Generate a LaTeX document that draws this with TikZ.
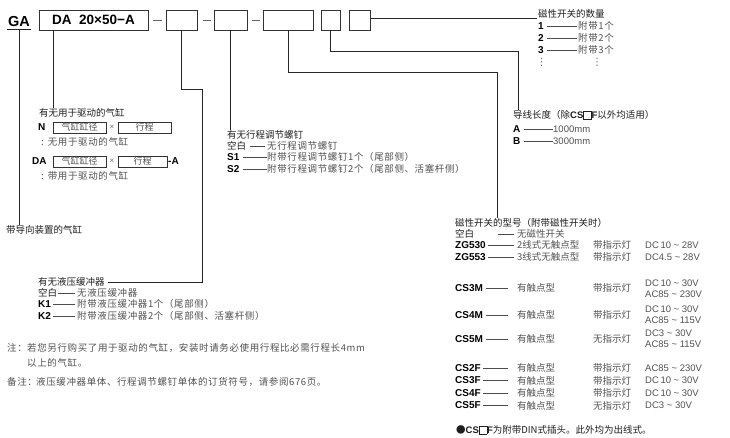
\documentclass[tikz,border=0pt]{standalone}
\usepackage{fontspec}
\setmainfont{Liberation Sans}
\newfontfamily\cjk{Noto Sans CJK SC}
\newfontfamily\cjkw[LetterSpace=6.5]{Noto Sans CJK SC}
\newfontfamily\dejavu{DejaVu Sans}
\newcommand\lat[1]{{\rmfamily\bfseries #1}}
\newcommand\sqbx{{\setlength\fboxsep{0pt}\setlength\fboxrule{0.6pt}\fbox{\rule{0pt}{7.5pt}\rule{7pt}{0pt}}}}
\newcommand\tld{\ \textasciitilde\ }
\newcommand\ldr[3]{\draw[ld] ([xshift=#2pt]#1.east) -- ++(#3,0);}
\tikzset{
  hd/.style={anchor=west, inner sep=0pt, font=\cjk\fontsize{9.5}{11}\selectfont, text=black!88},
  ds/.style={anchor=west, inner sep=0pt, font=\cjkw\fontsize{9.5}{11}\selectfont, text=black!68},
  dn/.style={hd, text=black!68},
  lb/.style={anchor=west, inner sep=0pt, font=\bfseries\fontsize{10}{12}\selectfont, text=black},
  lt/.style={anchor=west, inner sep=0pt, font=\fontsize{9.5}{11}\selectfont, text=black!68},
  codebox/.style={draw=black!80, line width=0.8pt, minimum height=20pt, inner sep=0pt},
  subbox/.style={draw=black!80, line width=0.6pt, minimum height=11pt, inner sep=0pt, font=\cjk\fontsize{9}{10}\selectfont, text=black!68},
  wire/.style={draw=black!85, line width=0.8pt},
  ld/.style={draw=black!70, line width=0.6pt},
  sep/.style={draw=black!60, line width=1.1pt},
  xmark/.style={inner sep=0pt, font=\fontsize{8}{9}\selectfont, text=black!60},
  vdot/.style={inner sep=0pt, font=\dejavu\fontsize{10}{11}\selectfont, text=black!60},
}
\begin{document}
\begin{tikzpicture}[x=1pt,y=-1pt]
\fill[white] (0,0) rectangle (730,438);
\useasboundingbox (0,0) rectangle (730,438);

% ---------- top code row ----------
\node[anchor=base, font=\bfseries\fontsize{14.5}{16}\selectfont, inner xsep=0.5pt, inner ysep=2pt] (ga) at (19,27) {GA};
\node[codebox, minimum width=109pt, font=\bfseries\fontsize{13.5}{15}\selectfont] (b1) at (93.5,20) {DA\ \ 20×50−A};
\node[codebox, minimum width=31pt] (b2) at (181.5,20) {};
\node[codebox, minimum width=33pt] (b3) at (230.5,20) {};
\node[codebox, minimum width=50pt] (b4) at (288,20) {};
\node[codebox, minimum width=19pt] (b5) at (330.5,20) {};
\node[codebox, minimum width=21pt] (b6) at (359.5,20) {};
\draw[sep] (153,20.5) -- (162,20.5);
\draw[sep] (203,20.5) -- (211,20.5);
\draw[sep] (252,20.5) -- (260,20.5);

% ---------- guide ----------
\node[hd] (gd) at (6,230) {带导向装置的气缸};
\draw[wire] (ga.south west) -- (ga.south east);
\draw[wire] (ga.south) -- (ga.south |- gd.north);

% ---------- drive cylinder ----------
\node[hd] (drv) at (39,113) {有无用于驱动的气缸};
\draw[wire] ([xshift=15pt]b1.south west) -- ([xshift=15pt]b1.south west |- drv.north);
\node[lb] (nn) at (38,127) {N};
\node[subbox, minimum width=53pt] (nb1) at (79.5,127.5) {气缸缸径};
\node[xmark] (nx) at (112,127.5) {×};
\node[subbox, minimum width=53pt] (nb2) at (144.5,127.5) {行程};
\node[ds] (nd) at (41,142) {:\hspace{4pt}无用于驱动的气缸};
\node[lb] (da) at (32,161) {DA};
\node[subbox, minimum width=53pt] (db1) at (79.5,161.5) {气缸缸径};
\node[xmark] (dx) at (112,161.5) {×};
\node[subbox, minimum width=49pt] (db2) at (142.5,161.5) {行程};
\node[lb] (dA) at (168,161) {-A};
\node[ds] (dd) at (41,176) {:\hspace{4pt}带用于驱动的气缸};

% ---------- buffer ----------
\node[hd] (buf) at (38,282) {有无液压缓冲器};
\coordinate (k2) at (202,89);
\draw[wire] (b2.south) |- (k2) |- ([xshift=3pt]buf.east);
\node[hd] (kb) at (38,293) {空白};
\node[ds] (kbd) at (77,293) {无液压缓冲器};
\ldr{kb}{1}{17}
\node[lb] (kk1) at (38,304) {K1};
\node[ds] (kk1d) at (77,304) {附带液压缓冲器1个（尾部侧）};
\ldr{kk1}{2}{22}
\node[lb] (kk2) at (38,316) {K2};
\node[ds] (kk2d) at (77,316) {附带液压缓冲器2个（尾部侧、活塞杆侧）};
\ldr{kk2}{2}{22}

% ---------- stroke screw ----------
\node[hd] (stk) at (227,135) {有无行程调节螺钉};
\draw[wire] (b3.south) -- (b3.south |- stk.north);
\node[hd] (sb) at (227,146) {空白};
\node[ds] (sbd) at (267,146) {无行程调节螺钉};
\ldr{sb}{4}{15}
\node[lb] (s1) at (227,157) {S1};
\node[ds] (s1d) at (267,157) {附带行程调节螺钉1个（尾部侧）};
\ldr{s1}{3}{24}
\node[lb] (s2) at (227,169) {S2};
\node[ds] (s2d) at (267,169) {附带行程调节螺钉2个（尾部侧、活塞杆侧）};
\ldr{s2}{3}{24}

% ---------- switch count ----------
\node[hd] (cnt) at (538,14) {磁性开关的数量};
\coordinate (k6) at (537,18);
\draw[wire] (b6.east |- k6) -- (k6);
\node[lb] (c1) at (538,26) {1};
\node[ds] (c1d) at (578,26) {附带1个};
\ldr{c1}{3.4}{30}
\node[lb] (c2) at (538,38) {2};
\node[ds] (c2d) at (578,38) {附带2个};
\ldr{c2}{3.4}{30}
\node[lb] (c3) at (538,50) {3};
\node[ds] (c3d) at (578,50) {附带3个};
\ldr{c3}{3.4}{30}
\node[vdot] (dt1) at (541.5,62) {⋮};
\node[vdot] (dt2) at (597,62) {⋮};

% ---------- lead length ----------
\node[hd] (lead) at (513,115) {导线长度（除\lat{CS}\sqbx\lat{F}以外均适用）};
\coordinate (k5) at (518,51);
\draw[wire] (b5.south) |- (k5) -- (k5 |- lead.north);
\node[lb] (la) at (513,129) {A};
\node[lt] (lad) at (553,129) {1000mm};
\ldr{la}{3}{29}
\node[lb] (lbb) at (513,141) {B};
\node[lt] (lbd) at (553,141) {3000mm};
\ldr{lbb}{3}{29}

% ---------- switch type ----------
\node[hd] (swt) at (455,223) {磁性开关的型号（附带磁性开关时）};
\coordinate (k4) at (497,72);
\draw[wire] (b4.south) |- (k4) -- (k4 |- swt.north);
\node[hd] (z0) at (455,234) {空白};
\node[dn] (z0d) at (517,234) {无磁性开关};
\ldr{z0}{24}{16}
\node[lb] (z1) at (455,245) {ZG530};
\node[dn] (z1d) at (517,245) {2线式无触点型};
\node[dn] (z1i) at (593,245) {带指示灯};
\node[lt] (z1v) at (645,245) {DC\,10\tld28V};
\ldr{z1}{2.5}{26}
\node[lb] (z2) at (455,257) {ZG553};
\node[dn] (z2d) at (517,257) {3线式无触点型};
\node[dn] (z2i) at (593,257) {带指示灯};
\node[lt] (z2v) at (645,257) {DC4.5\tld28V};
\ldr{z2}{2.5}{26}

\node[lb] (m3) at (455,288) {CS3M};
\node[dn] (m3d) at (517,288) {有触点型};
\node[dn] (m3i) at (593,288) {带指示灯};
\node[lt] (m3v) at (645,283) {DC\,10\tld30V};
\node[lt] (m3w) at (645,294) {AC85\tld230V};
\ldr{m3}{3}{22}
\node[lb] (m4) at (455,315) {CS4M};
\node[dn] (m4d) at (517,315) {有触点型};
\node[dn] (m4i) at (593,315) {带指示灯};
\node[lt] (m4v) at (645,309) {DC\,10\tld30V};
\node[lt] (m4w) at (645,320) {AC85\tld115V};
\ldr{m4}{3}{22}
\node[lb] (m5) at (455,339) {CS5M};
\node[dn] (m5d) at (517,339) {有触点型};
\node[dn] (m5i) at (593,339) {无指示灯};
\node[lt] (m5v) at (645,333) {DC3\tld30V};
\node[lt] (m5w) at (645,344) {AC85\tld115V};
\ldr{m5}{3}{22}

\node[lb] (f2) at (455,368) {CS2F};
\node[dn] (f2d) at (517,368) {有触点型};
\node[dn] (f2i) at (593,368) {带指示灯};
\node[lt] (f2v) at (645,368) {AC85\tld230V};
\ldr{f2}{2.4}{25}
\node[lb] (f3) at (455,380.5) {CS3F};
\node[dn] (f3d) at (517,380.5) {有触点型};
\node[dn] (f3i) at (593,380.5) {带指示灯};
\node[lt] (f3v) at (645,380.5) {DC\,10\tld30V};
\ldr{f3}{2.4}{25}
\node[lb] (f4) at (455,393) {CS4F};
\node[dn] (f4d) at (517,393) {有触点型};
\node[dn] (f4i) at (593,393) {带指示灯};
\node[lt] (f4v) at (645,393) {DC\,10\tld30V};
\ldr{f4}{2.4}{25}
\node[lb] (f5) at (455,405.5) {CS5F};
\node[dn] (f5d) at (517,405.5) {有触点型};
\node[dn] (f5i) at (593,405.5) {无指示灯};
\node[lt] (f5v) at (645,405.5) {DC3\tld30V};
\ldr{f5}{2.4}{25}

\node[hd] (din) at (456,430) {●\lat{CS}\sqbx\lat{F}为附带DIN式插头。此外均为出线式。};

% ---------- notes ----------
\node[ds] (nt1) at (7,348) {注：};
\node[ds] (nt1t) at (27,348) {若您另行购买了用于驱动的气缸，安装时请务必使用行程比必需行程长4mm};
\node[ds] (nt2) at (27,363) {以上的气缸。};
\node[ds] (nt3) at (7,382) {备注：};
\node[ds] (nt3t) at (36,382) {液压缓冲器单体、行程调节螺钉单体的订货符号，请参阅676页。};
\end{tikzpicture}
\end{document}
